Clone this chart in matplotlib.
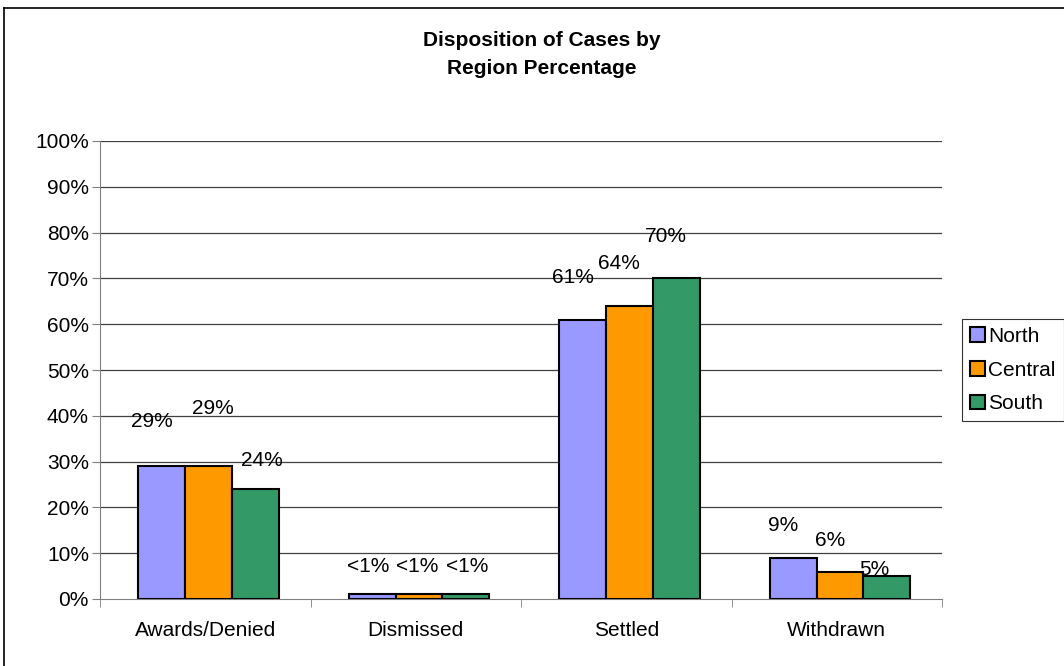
import matplotlib.pyplot as plt
import numpy as np
from matplotlib.lines import Line2D

plt.rcParams['font.family'] = ['Liberation Sans', 'DejaVu Sans']

categories = ['Awards/Denied', 'Dismissed', 'Settled', 'Withdrawn']
regions = ['North', 'Central', 'South']
north = [29, 1, 61, 9]
central = [29, 1, 64, 6]
south = [24, 1, 70, 5]
labels = [['29%', '<1%', '61%', '9%'],
          ['29%', '<1%', '64%', '6%'],
          ['24%', '<1%', '70%', '5%']]
colors = ['#9999FF', '#FF9900', '#339966']

# where excel dropped the labels (pixel offsets from bar top centre)
label_off = [[(-10, 45), (-4, 28), (-10, 42), (-10, 32)],
             [(4, 58), (-2, 28), (-10, 42), (-10, 31)],
             [(7, 29), (2, 28), (-10, 42), (-12, 7)]]

fig = plt.figure(figsize=(10.64, 6.66), dpi=100)
ax = fig.add_axes([100 / 1064, 1 - 599 / 666, 842 / 1064, 458 / 666])

x = np.arange(len(categories))
w = 0.222
series = [north, central, south]
for i, vals in enumerate(series):
    bars = ax.bar(x + 0.015 + (i - 1) * w, vals, w, color=colors[i], edgecolor='black',
                  linewidth=1.5, label=regions[i], zorder=3)
    for j, b in enumerate(bars):
        dx, dy = label_off[i][j]
        ax.annotate(labels[i][j], (b.get_x() + b.get_width() / 2, b.get_height()),
                    xytext=(dx, dy), textcoords='offset pixels',
                    ha='center', va='center', fontsize=15, zorder=4)

ax.set_xlim(-0.5, 3.5)
ax.set_ylim(0, 100)
ax.set_yticks(range(0, 101, 10))
ax.set_yticklabels([f'{v}%' for v in range(0, 101, 10)], fontsize=15)
ax.set_xticks(x)
ax.set_xticklabels(categories, fontsize=15)
ax.tick_params(axis='x', length=0, pad=16)
ax.set_xticks(np.arange(-0.5, 4, 1), minor=True)
ax.tick_params(axis='x', which='minor', length=6, color='#808080', direction='out')
ax.tick_params(axis='y', length=6, color='#808080', direction='out', pad=2)
for v in range(10, 101, 10):
    ax.axhline(v, color='#404040', linewidth=0.9, zorder=1)
ax.spines['top'].set_visible(False)
ax.spines['right'].set_visible(False)
ax.spines['left'].set_color('#808080')
ax.spines['bottom'].set_color('#808080')

leg = ax.legend(loc='center left', bbox_to_anchor=(962 / 1064, 1 - 370 / 666),
                bbox_transform=fig.transFigure, fontsize=15, frameon=True,
                fancybox=False, edgecolor='black', handlelength=0.7,
                handleheight=0.7, handletextpad=0.15, borderpad=0.4,
                labelspacing=0.7, borderaxespad=0)
leg.get_frame().set_linewidth(0.8)

fig.text(542 / 1064, 1 - 54 / 666, 'Disposition of Cases by\nRegion Percentage',
         ha='center', va='center', fontsize=15, fontweight='bold', linespacing=1.6)

# outer chart border
fig.add_artist(Line2D([4 / 1064, 1], [1 - 8 / 666, 1 - 8 / 666], color='black', lw=1.2))
fig.add_artist(Line2D([4 / 1064, 4 / 1064], [0, 1 - 8 / 666], color='black', lw=1.2))

fig.savefig('out.png', dpi=100)
